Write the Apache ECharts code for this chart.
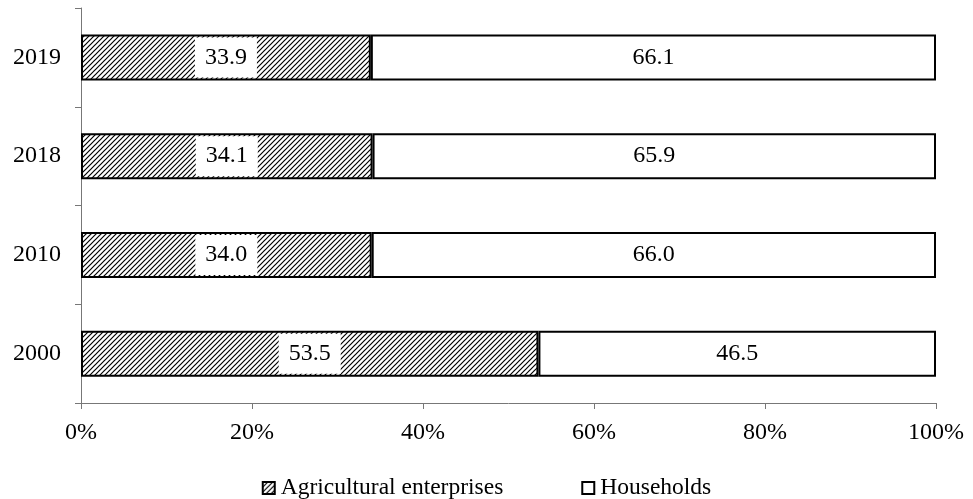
<!DOCTYPE html>
<html><head><meta charset="utf-8">
<script src="https://cdn.jsdelivr.net/npm/echarts@6/dist/echarts.min.js"></script>
<style>html,body{margin:0;padding:0;background:#fff}#c{width:973px;height:499px}</style>
</head><body><div id="c"></div>
<script>
const categories = ['2000', '2010', '2018', '2019'];
const enterprises = [53.5, 34.0, 34.1, 33.9];
const households = [46.5, 66.0, 65.9, 66.1];
const xTicks = [0, 20, 40, 60, 80, 100];

function hatch() {
  const c = document.createElement('canvas');
  c.width = 5; c.height = 5;
  const g = c.getContext('2d');
  g.fillStyle = '#fff'; g.fillRect(0, 0, 5, 5);
  g.strokeStyle = '#000'; g.lineWidth = 1.2;
  g.beginPath();
  g.moveTo(-1, 6); g.lineTo(6, -1);
  g.moveTo(-3.5, 3.5); g.lineTo(3.5, -3.5);
  g.moveTo(1.5, 8.5); g.lineTo(8.5, 1.5);
  g.stroke();
  return c;
}
const pat = { image: hatch(), repeat: 'repeat' };
const font = 'Liberation Serif';
const chart = echarts.init(document.getElementById('c'));
chart.setOption({
  animation: false,
  textStyle: { fontFamily: font },
  grid: { left: 81, right: 37, top: 8, bottom: 96 },
  legend: {
    top: 471, left: 'center', itemGap: 78, itemWidth: 12, itemHeight: 12,
    textStyle: { fontFamily: font, fontSize: 23.5, color: '#000', padding: [0, 0, 0, 1] },
    data: [
      { name: 'Agricultural enterprises', icon: 'rect', itemStyle: { color: pat, borderColor: '#000', borderWidth: 2 } },
      { name: 'Households', icon: 'rect', itemStyle: { color: '#fff', borderColor: '#000', borderWidth: 2 } }
    ]
  },
  xAxis: {
    type: 'value', min: 0, max: 100, interval: 20,
    axisLine: { show: true, lineStyle: { color: '#777' } },
    axisTick: { show: true, length: 6, lineStyle: { color: '#777' } },
    splitLine: { show: false },
    axisLabel: { formatter: v => xTicks.includes(v) ? v + '%' : '', color: '#000', fontSize: 24, fontFamily: font, margin: 18 }
  },
  yAxis: {
    type: 'category', data: categories,
    axisLine: { show: true, lineStyle: { color: '#777' } },
    axisTick: { show: true, length: 6, lineStyle: { color: '#777' } },
    axisLabel: { color: '#000', fontSize: 24, fontFamily: font, margin: 20 }
  },
  series: [
    {
      name: 'Agricultural enterprises', type: 'bar', stack: 's', barWidth: 46,
      data: enterprises,
      itemStyle: { color: pat, borderColor: '#000', borderWidth: 2 },
      label: { show: true, position: 'inside', formatter: p => p.value.toFixed(1), color: '#000', fontSize: 24, fontFamily: font,
        backgroundColor: '#fff', padding: [9, 10, 7, 10] }
    },
    {
      name: 'Households', type: 'bar', stack: 's', barWidth: 46,
      data: households,
      itemStyle: { color: '#fff', borderColor: '#000', borderWidth: 2 },
      label: { show: true, position: 'inside', formatter: p => p.value.toFixed(1), color: '#000', fontSize: 24, fontFamily: font }
    }
  ]
});
</script></body></html>
